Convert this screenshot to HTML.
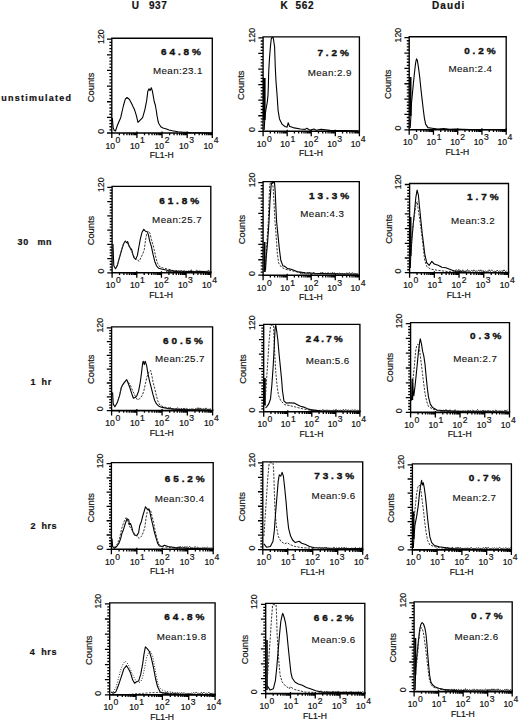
<!DOCTYPE html><html><head><meta charset="utf-8"><style>html,body{margin:0;padding:0;background:#fff;}svg{display:block}text{font-family:"Liberation Sans", sans-serif;fill:#111;stroke:#111;stroke-width:0.2px}</style></head><body>
<svg width="520" height="722" viewBox="0 0 520 722">
<rect width="520" height="722" fill="#fff"/>
<text x="131.8" y="8.6" font-size="10" font-weight="bold" letter-spacing="0.6">U</text>
<text x="148.9" y="8.6" font-size="10" font-weight="bold" letter-spacing="0.6">937</text>
<text x="280.6" y="8.6" font-size="10" font-weight="bold" letter-spacing="0.6">K</text>
<text x="295.6" y="8.6" font-size="10" font-weight="bold" letter-spacing="0.6">562</text>
<text x="432" y="8.6" font-size="10" font-weight="bold" letter-spacing="1.1">Daudi</text>
<text x="1.3" y="100.8" font-size="9" font-weight="bold" letter-spacing="1.25">unstimulated</text>
<text x="17.6" y="244.6" font-size="9" font-weight="bold" letter-spacing="0.6">30</text>
<text x="37.5" y="244.6" font-size="9" font-weight="bold" letter-spacing="0.5">mn</text>
<text x="30.6" y="384.6" font-size="9" font-weight="bold" letter-spacing="0.5">1</text>
<text x="41.6" y="384.6" font-size="9" font-weight="bold" letter-spacing="0.6">hr</text>
<text x="30.4" y="529.3" font-size="9" font-weight="bold" letter-spacing="0.5">2</text>
<text x="41.4" y="529.3" font-size="9" font-weight="bold" letter-spacing="0.6">hrs</text>
<text x="29.8" y="654.5" font-size="9" font-weight="bold" letter-spacing="0.5">4</text>
<text x="41.2" y="654.5" font-size="9" font-weight="bold" letter-spacing="0.6">hrs</text>
<path d="M107 133H111.8M109.4 129.87H111.8M109.4 126.75H111.8M109.4 123.62H111.8M109.4 120.49H111.8M107 117.37H111.8M109.4 114.24H111.8M109.4 111.11H111.8M109.4 107.99H111.8M109.4 104.86H111.8M107 101.73H111.8M109.4 98.61H111.8M109.4 95.48H111.8M109.4 92.35H111.8M109.4 89.23H111.8M107 86.1H111.8M109.4 82.97H111.8M109.4 79.85H111.8M109.4 76.72H111.8M109.4 73.59H111.8M107 70.47H111.8M109.4 67.34H111.8M109.4 64.21H111.8M109.4 61.09H111.8M109.4 57.96H111.8M107 54.83H111.8M109.4 51.71H111.8M109.4 48.58H111.8M109.4 45.45H111.8M109.4 42.33H111.8M107 39.2H111.8M111.8 133V138M119.36 133V135.2M123.79 133V135.2M126.93 133V135.2M129.36 133V135.2M131.35 133V135.2M133.03 133V135.2M134.49 133V135.2M135.78 133V135.2M136.93 131.5V138M144.49 133V135.2M148.91 133V135.2M152.05 133V135.2M154.49 133V135.2M156.48 133V135.2M158.16 133V135.2M159.62 133V135.2M160.9 133V135.2M162.05 131.5V138M169.61 133V135.2M174.04 133V135.2M177.18 133V135.2M179.61 133V135.2M181.6 133V135.2M183.28 133V135.2M184.74 133V135.2M186.03 133V135.2M187.18 131.5V138M194.74 133V135.2M199.16 133V135.2M202.3 133V135.2M204.74 133V135.2M206.73 133V135.2M208.41 133V135.2M209.87 133V135.2M211.15 133V135.2M212.3 131.5V138" stroke="#000" stroke-width="1.3" fill="none"/>
<path d="M112.4 118 L112.8 124 L113.2 128 L114.3 130.5 L115.5 131 L117.2 125.8 L118.8 122 L120.7 117.7 L122.2 111 L123.6 105 L125.3 99.2 L127 97.5 L129.3 99.2 L130.5 101.5 L131.7 103.8 L133.2 107 L134.5 109.6 L136.3 115.4 L138 122.3 L139.7 120.6 L142.6 117.7 L144.9 109.6 L146.7 100.4 L147.8 91.2 L149 88.8 L150.1 90.6 L151.3 87.7 L152.4 91.2 L154.2 101.5 L155.3 105 L156.2 110 L157 115.4 L158 121 L158.8 123.5 L160.8 126.7 L163 128 L166.5 129 L169 130 L172.3 130.8 L178 131.7 L183.8 132.2 L190 132.6 L200 132.8 L211 133" stroke="#000" stroke-width="1.1" fill="none" stroke-linejoin="round"/>
<path d="M111.8 133V38.2H212.3V133" stroke="#000" stroke-width="1.35" fill="none"/>
<path d="M111.2 133H212.9" stroke="#000" stroke-width="1.6" fill="none"/>
<text transform="translate(103.5 36.6) rotate(-90)" text-anchor="middle" font-size="8.8">120</text>
<text transform="translate(103.5 131.3) rotate(-90)" text-anchor="middle" font-size="8.8">0</text>
<text transform="translate(93.7 87.4) rotate(-90)" text-anchor="middle" font-size="9.3">Counts</text>
<text x="105.5" y="148.5" font-size="8.6">10</text>
<text x="115.6" y="143.3" font-size="8.6">0</text>
<text x="130.03" y="148.5" font-size="8.6">10</text>
<text x="140.12" y="143.3" font-size="8.6">1</text>
<text x="154.55" y="148.5" font-size="8.6">10</text>
<text x="164.65" y="143.3" font-size="8.6">2</text>
<text x="179.07" y="148.5" font-size="8.6">10</text>
<text x="189.17" y="143.3" font-size="8.6">3</text>
<text x="203.6" y="148.5" font-size="8.6">10</text>
<text x="213.7" y="143.3" font-size="8.6">4</text>
<text x="161.75" y="157.9" text-anchor="middle" font-size="8.6">FL1-H</text>
<text transform="translate(161.02 55.26) scale(1 0.99)" font-size="10" font-weight="bold" style="stroke-width:0.4px" letter-spacing="2.9">64.8%</text>
<text transform="translate(152.9 73.8) scale(1 1.0)" font-size="9.8" style="stroke-width:0.12px" letter-spacing="0.4">Mean:23.1</text>
<path d="M258.3 131.3H263.1M260.7 128.19H263.1M260.7 125.07H263.1M260.7 121.96H263.1M260.7 118.85H263.1M258.3 115.73H263.1M260.7 112.62H263.1M260.7 109.51H263.1M260.7 106.39H263.1M260.7 103.28H263.1M258.3 100.17H263.1M260.7 97.05H263.1M260.7 93.94H263.1M260.7 90.83H263.1M260.7 87.71H263.1M258.3 84.6H263.1M260.7 81.49H263.1M260.7 78.37H263.1M260.7 75.26H263.1M260.7 72.15H263.1M258.3 69.03H263.1M260.7 65.92H263.1M260.7 62.81H263.1M260.7 59.69H263.1M260.7 56.58H263.1M258.3 53.47H263.1M260.7 50.35H263.1M260.7 47.24H263.1M260.7 44.13H263.1M260.7 41.01H263.1M258.3 37.9H263.1M263.1 131.3V136.3M270.35 131.3V133.5M274.59 131.3V133.5M277.59 131.3V133.5M279.93 131.3V133.5M281.83 131.3V133.5M283.45 131.3V133.5M284.84 131.3V133.5M286.07 131.3V133.5M287.18 129.8V136.3M294.42 131.3V133.5M298.66 131.3V133.5M301.67 131.3V133.5M304 131.3V133.5M305.91 131.3V133.5M307.52 131.3V133.5M308.92 131.3V133.5M310.15 131.3V133.5M311.25 129.8V136.3M318.5 131.3V133.5M322.74 131.3V133.5M325.74 131.3V133.5M328.08 131.3V133.5M329.98 131.3V133.5M331.6 131.3V133.5M332.99 131.3V133.5M334.22 131.3V133.5M335.32 129.8V136.3M342.57 131.3V133.5M346.81 131.3V133.5M349.82 131.3V133.5M352.15 131.3V133.5M354.06 131.3V133.5M355.67 131.3V133.5M357.07 131.3V133.5M358.3 131.3V133.5M359.4 129.8V136.3" stroke="#000" stroke-width="1.3" fill="none"/>
<path d="M264.3 78 L264.3 120" stroke="#000" stroke-width="2.6" fill="none" stroke-linejoin="round"/>
<path d="M264.2 130 L264.6 122 L265.3 114 L266.2 108 L267.3 102 L268 95 L268.4 85 L268.7 72 L269.5 58 L270.4 46.9 L271.2 39.2 L271.8 37.6 L273.2 37.6 L273.6 40 L274.6 46.9 L275.3 67.6 L276 81.5 L277.1 95.3 L278.1 110.6 L279.5 118.9 L282.2 124.4 L285 126.5 L287.1 127.2 L288.2 122.7 L289.5 126.3 L294.2 127.9 L300.5 129 L305.2 129.4 L306.8 128.3 L310 130.2 L313.9 129 L316.3 130.2 L321 129.4 L330 130.4 L358 130.8" stroke="#000" stroke-width="1.1" fill="none" stroke-linejoin="round"/>
<path d="M263.1 131.3V36.9H359.4V131.3" stroke="#000" stroke-width="1.35" fill="none"/>
<path d="M262.5 131.3H360" stroke="#000" stroke-width="1.6" fill="none"/>
<text transform="translate(254.8 35.3) rotate(-90)" text-anchor="middle" font-size="8.8">120</text>
<text transform="translate(254.8 129.6) rotate(-90)" text-anchor="middle" font-size="8.8">0</text>
<text transform="translate(244.3 85.2) rotate(-90)" text-anchor="middle" font-size="9.3">Counts</text>
<text x="256.8" y="146.8" font-size="8.6">10</text>
<text x="266.9" y="141.6" font-size="8.6">0</text>
<text x="280.27" y="146.8" font-size="8.6">10</text>
<text x="290.38" y="141.6" font-size="8.6">1</text>
<text x="303.75" y="146.8" font-size="8.6">10</text>
<text x="313.85" y="141.6" font-size="8.6">2</text>
<text x="327.22" y="146.8" font-size="8.6">10</text>
<text x="337.32" y="141.6" font-size="8.6">3</text>
<text x="350.7" y="146.8" font-size="8.6">10</text>
<text x="360.8" y="141.6" font-size="8.6">4</text>
<text x="310.95" y="156.2" text-anchor="middle" font-size="8.6">FL1-H</text>
<text transform="translate(317.38 55.98) scale(1 0.99)" font-size="10" font-weight="bold" style="stroke-width:0.4px" letter-spacing="2.9">7.2%</text>
<text transform="translate(307.7 76.24) scale(1 1.0)" font-size="9.8" style="stroke-width:0.12px" letter-spacing="0.4">Mean:2.9</text>
<path d="M404.4 129.8H409.2M406.8 126.73H409.2M406.8 123.66H409.2M406.8 120.59H409.2M406.8 117.52H409.2M404.4 114.45H409.2M406.8 111.38H409.2M406.8 108.31H409.2M406.8 105.24H409.2M406.8 102.17H409.2M404.4 99.1H409.2M406.8 96.03H409.2M406.8 92.96H409.2M406.8 89.89H409.2M406.8 86.82H409.2M404.4 83.75H409.2M406.8 80.68H409.2M406.8 77.61H409.2M406.8 74.54H409.2M406.8 71.47H409.2M404.4 68.4H409.2M406.8 65.33H409.2M406.8 62.26H409.2M406.8 59.19H409.2M406.8 56.12H409.2M404.4 53.05H409.2M406.8 49.98H409.2M406.8 46.91H409.2M406.8 43.84H409.2M406.8 40.77H409.2M404.4 37.7H409.2M409.2 129.8V134.8M416.5 129.8V132M420.77 129.8V132M423.8 129.8V132M426.15 129.8V132M428.07 129.8V132M429.69 129.8V132M431.1 129.8V132M432.34 129.8V132M433.45 128.3V134.8M440.75 129.8V132M445.02 129.8V132M448.05 129.8V132M450.4 129.8V132M452.32 129.8V132M453.94 129.8V132M455.35 129.8V132M456.59 129.8V132M457.7 128.3V134.8M465 129.8V132M469.27 129.8V132M472.3 129.8V132M474.65 129.8V132M476.57 129.8V132M478.19 129.8V132M479.6 129.8V132M480.84 129.8V132M481.95 128.3V134.8M489.25 129.8V132M493.52 129.8V132M496.55 129.8V132M498.9 129.8V132M500.82 129.8V132M502.44 129.8V132M503.85 129.8V132M505.09 129.8V132M506.2 128.3V134.8" stroke="#000" stroke-width="1.3" fill="none"/>
<path d="M410.5 77 L410.5 116" stroke="#000" stroke-width="2.0" fill="none" stroke-linejoin="round"/>
<path d="M410.2 128 L410.9 115.9 L411.5 103 L412.3 94.7 L413.2 85.3 L414.4 73.5 L415.6 63 L416.5 58.8 L417.4 60.6 L418.5 67.6 L419.7 77 L420.9 88.8 L422.1 99.4 L423.2 108.8 L424.4 118.2 L425.6 124.1 L427.9 127.6 L432.1 128.2 L437.9 129.1 L443.8 128.6 L449.7 129.4 L455 129.1 L470 129.6 L505 129.8" stroke="#000" stroke-width="1.1" fill="none" stroke-linejoin="round"/>
<path d="M409.2 129.8V36.7H506.2V129.8" stroke="#000" stroke-width="1.35" fill="none"/>
<path d="M408.6 129.8H506.8" stroke="#000" stroke-width="1.6" fill="none"/>
<text transform="translate(400.9 35.1) rotate(-90)" text-anchor="middle" font-size="8.8">120</text>
<text transform="translate(400.9 128.1) rotate(-90)" text-anchor="middle" font-size="8.8">0</text>
<text transform="translate(391.1 84.2) rotate(-90)" text-anchor="middle" font-size="9.3">Counts</text>
<text x="402.9" y="145.3" font-size="8.6">10</text>
<text x="413" y="140.1" font-size="8.6">0</text>
<text x="426.55" y="145.3" font-size="8.6">10</text>
<text x="436.65" y="140.1" font-size="8.6">1</text>
<text x="450.2" y="145.3" font-size="8.6">10</text>
<text x="460.3" y="140.1" font-size="8.6">2</text>
<text x="473.85" y="145.3" font-size="8.6">10</text>
<text x="483.95" y="140.1" font-size="8.6">3</text>
<text x="497.5" y="145.3" font-size="8.6">10</text>
<text x="507.6" y="140.1" font-size="8.6">4</text>
<text x="457.4" y="154.7" text-anchor="middle" font-size="8.6">FL1-H</text>
<text transform="translate(464.16 54.06) scale(1 0.99)" font-size="10" font-weight="bold" style="stroke-width:0.4px" letter-spacing="2.9">0.2%</text>
<text transform="translate(448.38 72.44) scale(1 1.0)" font-size="9.8" style="stroke-width:0.12px" letter-spacing="0.4">Mean:2.4</text>
<path d="M107.3 272.8H112.1M109.7 269.95H112.1M109.7 267.1H112.1M109.7 264.25H112.1M109.7 261.4H112.1M107.3 258.55H112.1M109.7 255.7H112.1M109.7 252.85H112.1M109.7 250H112.1M109.7 247.15H112.1M107.3 244.3H112.1M109.7 241.45H112.1M109.7 238.6H112.1M109.7 235.75H112.1M109.7 232.9H112.1M107.3 230.05H112.1M109.7 227.2H112.1M109.7 224.35H112.1M109.7 221.5H112.1M109.7 218.65H112.1M107.3 215.8H112.1M109.7 212.95H112.1M109.7 210.1H112.1M109.7 207.25H112.1M109.7 204.4H112.1M107.3 201.55H112.1M109.7 198.7H112.1M109.7 195.85H112.1M109.7 193H112.1M109.7 190.15H112.1M107.3 187.3H112.1M112.1 272.8V277.8M119.53 272.8V275M123.87 272.8V275M126.96 272.8V275M129.35 272.8V275M131.3 272.8V275M132.95 272.8V275M134.38 272.8V275M135.65 272.8V275M136.78 271.3V277.8M144.2 272.8V275M148.55 272.8V275M151.63 272.8V275M154.02 272.8V275M155.98 272.8V275M157.63 272.8V275M159.06 272.8V275M160.32 272.8V275M161.45 271.3V277.8M168.88 272.8V275M173.22 272.8V275M176.31 272.8V275M178.7 272.8V275M180.65 272.8V275M182.3 272.8V275M183.73 272.8V275M185 272.8V275M186.12 271.3V277.8M193.55 272.8V275M197.9 272.8V275M200.98 272.8V275M203.37 272.8V275M205.33 272.8V275M206.98 272.8V275M208.41 272.8V275M209.67 272.8V275M210.8 271.3V277.8" stroke="#000" stroke-width="1.3" fill="none"/>
<path d="M113 244 L113.4 256 L113.8 265.8 L115.5 268.7 L117.2 265.8 L119.5 257.7 L121.8 249.6 L123.6 243.8 L125.3 241 L126.5 242.7 L127.6 241.5 L128.8 245 L129.9 247.3 L131.7 249.6 L132.8 254.2 L134 257.7 L135.7 259.4 L137.4 255.4 L138.6 248.5 L140.3 239.2 L142 232.3 L143.8 229.4 L145.5 231.2 L147.2 231.7 L148.4 234.6 L149.5 240.4 L151.3 246.2 L153 254.2 L154.7 261.2 L156.5 265.8 L158.8 268.3 L162.2 269.2 L166.3 270 L170 271.3 L172.5 270.6 L176 271.6 L180 271 L185 271.8 L190 271.2 L195 271.9 L200 271.3 L210 272" stroke="#000" stroke-width="1.1" fill="none" stroke-linejoin="round"/>
<path d="M115.5 268.7 L117.2 265.8 L119.5 257.2 L121.8 249 L123.6 243.5 L125.3 241.3 L127 242 L128.8 246 L130.5 249.5 L132.8 254 L135.1 258.5 L137.4 260 L139.2 261.2 L140.9 257.7 L142.6 254.2 L144.3 249.6 L145.5 240.4 L146.7 233.5 L148.4 231.2 L150.1 233.5 L151.3 239.2 L153 245 L154.2 249.6 L155.9 257.7 L157.6 263.5 L159.9 266.9 L163.4 268.1 L168 269.2 L172 270.3 L178 271" stroke="#2a2a2a" stroke-width="0.95" fill="none" stroke-linejoin="round" stroke-dasharray="2.2 1.3"/>
<path d="M166 271.79 L167.57 271.2 L168.9 271.86 L169.82 269.16 L170.71 271.58 L171.82 270.45 L172.97 271.8 L174.42 271.3 L175.33 271.89 L176.27 270.59 L177.78 271.71 L178.58 270.93 L180.18 271.87 L181.43 270.69 L182.73 271.73 L184.05 270.45 L185.34 271.45 L186.56 271.21 L187.32 271.43 L188.46 271.1 L190.01 271.61 L191.36 269.74 L192.32 271.72 L193.81 271.24 L195.2 271.85 L196.52 270.16 L198.08 271.48 L199.23 271.13 L200.06 271.64 L201.22 271.37 L202.74 271.65 L204.07 271.11 L204.99 271.89 L205.99 271.03 L207.08 271.71 L208.53 269.97 L209.38 271.7" stroke="#111" stroke-width="0.8075" fill="none" stroke-linejoin="round"/>
<path d="M112.1 272.8V186.3H210.8V272.8" stroke="#000" stroke-width="1.35" fill="none"/>
<path d="M111.5 272.8H211.4" stroke="#000" stroke-width="1.6" fill="none"/>
<text transform="translate(103.8 184.7) rotate(-90)" text-anchor="middle" font-size="8.8">120</text>
<text transform="translate(103.8 271.1) rotate(-90)" text-anchor="middle" font-size="8.8">0</text>
<text transform="translate(94.4 230.55) rotate(-90)" text-anchor="middle" font-size="9.3">Counts</text>
<text x="105.8" y="288.3" font-size="8.6">10</text>
<text x="115.9" y="283.1" font-size="8.6">0</text>
<text x="129.88" y="288.3" font-size="8.6">10</text>
<text x="139.97" y="283.1" font-size="8.6">1</text>
<text x="153.95" y="288.3" font-size="8.6">10</text>
<text x="164.05" y="283.1" font-size="8.6">2</text>
<text x="178.03" y="288.3" font-size="8.6">10</text>
<text x="188.12" y="283.1" font-size="8.6">3</text>
<text x="202.1" y="288.3" font-size="8.6">10</text>
<text x="212.2" y="283.1" font-size="8.6">4</text>
<text x="161.15" y="297.7" text-anchor="middle" font-size="8.6">FL1-H</text>
<text transform="translate(159.2 204.07) scale(1 0.99)" font-size="10" font-weight="bold" style="stroke-width:0.4px" letter-spacing="2.9">61.8%</text>
<text transform="translate(152.12 222.8) scale(1 1.0)" font-size="9.8" style="stroke-width:0.12px" letter-spacing="0.4">Mean:25.7</text>
<path d="M258.3 275.2H263.1M260.7 272.11H263.1M260.7 269.03H263.1M260.7 265.94H263.1M260.7 262.85H263.1M258.3 259.77H263.1M260.7 256.68H263.1M260.7 253.59H263.1M260.7 250.51H263.1M260.7 247.42H263.1M258.3 244.33H263.1M260.7 241.25H263.1M260.7 238.16H263.1M260.7 235.07H263.1M260.7 231.99H263.1M258.3 228.9H263.1M260.7 225.81H263.1M260.7 222.73H263.1M260.7 219.64H263.1M260.7 216.55H263.1M258.3 213.47H263.1M260.7 210.38H263.1M260.7 207.29H263.1M260.7 204.21H263.1M260.7 201.12H263.1M258.3 198.03H263.1M260.7 194.95H263.1M260.7 191.86H263.1M260.7 188.77H263.1M260.7 185.69H263.1M258.3 182.6H263.1M263.1 275.2V280.2M270.34 275.2V277.4M274.57 275.2V277.4M277.58 275.2V277.4M279.91 275.2V277.4M281.81 275.2V277.4M283.42 275.2V277.4M284.82 275.2V277.4M286.05 275.2V277.4M287.15 273.7V280.2M294.39 275.2V277.4M298.62 275.2V277.4M301.63 275.2V277.4M303.96 275.2V277.4M305.86 275.2V277.4M307.47 275.2V277.4M308.87 275.2V277.4M310.1 275.2V277.4M311.2 273.7V280.2M318.44 275.2V277.4M322.67 275.2V277.4M325.68 275.2V277.4M328.01 275.2V277.4M329.91 275.2V277.4M331.52 275.2V277.4M332.92 275.2V277.4M334.15 275.2V277.4M335.25 273.7V280.2M342.49 275.2V277.4M346.72 275.2V277.4M349.73 275.2V277.4M352.06 275.2V277.4M353.96 275.2V277.4M355.57 275.2V277.4M356.97 275.2V277.4M358.2 275.2V277.4M359.3 273.7V280.2" stroke="#000" stroke-width="1.3" fill="none"/>
<path d="M264.6 242 L264.6 272" stroke="#000" stroke-width="1.8" fill="none" stroke-linejoin="round"/>
<path d="M265.2 272 L265.5 265.9 L266.9 242.3 L268.3 221.5 L269 200.8 L269.7 185.5 L270.4 182.6 L272.5 182.6 L273.2 188.3 L273.9 200.8 L275 221.5 L275.9 232.6 L276.6 242.3 L277.3 253.4 L278.7 263.1 L281.5 267.3 L285.6 269.3 L291 270.5 L298 272.2 L306 273" stroke="#2a2a2a" stroke-width="0.95" fill="none" stroke-linejoin="round" stroke-dasharray="2.2 1.3"/>
<path d="M265.5 270 L266.2 257.6 L267.6 242.3 L269 221.5 L270 200.8 L271.1 185.5 L271.8 182.6 L274.5 182.6 L275.2 191.1 L275.9 207.7 L276.6 221.5 L278 235.4 L279.4 249.3 L280.8 260.3 L282.9 265.9 L284.2 266 L287.7 268.6 L291.2 269.2 L298.3 271.9 L305.4 272.7 L314.2 273.3 L323.1 273.6 L358 274.3" stroke="#000" stroke-width="1.1" fill="none" stroke-linejoin="round"/>
<path d="M300 274.22 L301.32 272.64 L302.45 274.19 L303.87 272.32 L305.03 274.05 L305.94 273.89 L306.97 274.01 L307.74 272.37 L308.64 274.18 L309.38 272 L310.75 273.86 L312 273.84 L313 274.05 L313.8 272.13 L314.83 274.22 L316.27 273.67 L317.8 274.07 L319 273.28 L320.14 274.21 L320.87 272.35 L321.78 273.91 L322.67 272.18 L324.17 273.92 L325.56 272.89 L326.92 274.24 L328.05 272.48 L328.93 273.84 L330.43 273.21 L331.45 274.07 L332.5 272.24 L333.55 274.29 L334.33 272.71 L335.93 274.05 L337.07 273.01 L338.44 274.19 L339.69 273.01 L340.95 274.21 L341.8 273.35 L343.34 274.13 L344.58 273.43 L345.37 274.27 L346.8 272.71 L347.84 273.96 L349.15 272.55 L350.71 274.1 L352.3 272.49 L353.53 273.86 L354.67 273.36 L355.6 273.86 L356.44 273.8 L357.87 273.91" stroke="#111" stroke-width="0.765" fill="none" stroke-linejoin="round"/>
<path d="M263.1 275.2V181.6H359.3V275.2" stroke="#000" stroke-width="1.35" fill="none"/>
<path d="M262.5 275.2H359.9" stroke="#000" stroke-width="1.6" fill="none"/>
<text transform="translate(254.8 180) rotate(-90)" text-anchor="middle" font-size="8.8">120</text>
<text transform="translate(254.8 273.5) rotate(-90)" text-anchor="middle" font-size="8.8">0</text>
<text transform="translate(244.5 229.5) rotate(-90)" text-anchor="middle" font-size="9.3">Counts</text>
<text x="256.8" y="290.7" font-size="8.6">10</text>
<text x="266.9" y="285.5" font-size="8.6">0</text>
<text x="280.25" y="290.7" font-size="8.6">10</text>
<text x="290.35" y="285.5" font-size="8.6">1</text>
<text x="303.7" y="290.7" font-size="8.6">10</text>
<text x="313.8" y="285.5" font-size="8.6">2</text>
<text x="327.15" y="290.7" font-size="8.6">10</text>
<text x="337.25" y="285.5" font-size="8.6">3</text>
<text x="350.6" y="290.7" font-size="8.6">10</text>
<text x="360.7" y="285.5" font-size="8.6">4</text>
<text x="310.9" y="300.1" text-anchor="middle" font-size="8.6">FL1-H</text>
<text transform="translate(309.12 199.46) scale(1 0.99)" font-size="10" font-weight="bold" style="stroke-width:0.4px" letter-spacing="2.9">13.3%</text>
<text transform="translate(300.26 217.28) scale(1 1.0)" font-size="9.8" style="stroke-width:0.12px" letter-spacing="0.4">Mean:4.3</text>
<path d="M404.8 272.7H409.6M407.2 269.76H409.6M407.2 266.82H409.6M407.2 263.88H409.6M407.2 260.94H409.6M404.8 258H409.6M407.2 255.06H409.6M407.2 252.12H409.6M407.2 249.18H409.6M407.2 246.24H409.6M404.8 243.3H409.6M407.2 240.36H409.6M407.2 237.42H409.6M407.2 234.48H409.6M407.2 231.54H409.6M404.8 228.6H409.6M407.2 225.66H409.6M407.2 222.72H409.6M407.2 219.78H409.6M407.2 216.84H409.6M404.8 213.9H409.6M407.2 210.96H409.6M407.2 208.02H409.6M407.2 205.08H409.6M407.2 202.14H409.6M404.8 199.2H409.6M407.2 196.26H409.6M407.2 193.32H409.6M407.2 190.38H409.6M407.2 187.44H409.6M404.8 184.5H409.6M409.6 272.7V277.7M417.04 272.7V274.9M421.4 272.7V274.9M424.49 272.7V274.9M426.88 272.7V274.9M428.84 272.7V274.9M430.5 272.7V274.9M431.93 272.7V274.9M433.19 272.7V274.9M434.33 271.2V277.7M441.77 272.7V274.9M446.12 272.7V274.9M449.21 272.7V274.9M451.61 272.7V274.9M453.56 272.7V274.9M455.22 272.7V274.9M456.65 272.7V274.9M457.92 272.7V274.9M459.05 271.2V277.7M466.49 272.7V274.9M470.85 272.7V274.9M473.94 272.7V274.9M476.33 272.7V274.9M478.29 272.7V274.9M479.95 272.7V274.9M481.38 272.7V274.9M482.64 272.7V274.9M483.77 271.2V277.7M491.22 272.7V274.9M495.57 272.7V274.9M498.66 272.7V274.9M501.06 272.7V274.9M503.01 272.7V274.9M504.67 272.7V274.9M506.1 272.7V274.9M507.37 272.7V274.9M508.5 271.2V277.7" stroke="#000" stroke-width="1.3" fill="none"/>
<path d="M410.6 217 L410.6 256" stroke="#000" stroke-width="1.8" fill="none" stroke-linejoin="round"/>
<path d="M410.3 268 L410.7 256.3 L412 238.5 L413.3 223.2 L414.6 210.5 L415.8 197.7 L417.1 190.1 L418.4 195.2 L419.6 207.9 L420.9 220.7 L422.2 233.4 L423.5 243.6 L424.7 253.8 L426.7 262.7 L429.2 265.3 L431.8 261.4 L434.3 264 L438.1 265.3 L441.9 267.2 L445.8 267.8 L450.9 269.7 L456 271.6 L470 272.3 L507 272.6" stroke="#000" stroke-width="1.1" fill="none" stroke-linejoin="round"/>
<path d="M410.7 248.7 L412.6 229.6 L414.6 214.3 L415.8 205.4 L417.1 201.6 L418.4 210.5 L419.6 218.1 L420.9 228.3 L422.2 238.5 L423.5 250 L424.7 260.2 L426.7 266.5 L430.5 269.1 L438.1 270.4 L448.3 271.6 L460 272.2" stroke="#2a2a2a" stroke-width="0.95" fill="none" stroke-linejoin="round" stroke-dasharray="2.2 1.3"/>
<path d="M455 271.54 L456.23 269.56 L457.74 271.36 L458.76 269.36 L459.85 271.65 L460.63 270.31 L461.47 271.66 L462.72 269.77 L464.1 271.76 L464.85 270.87 L466.05 271.38 L467.47 269.49 L468.7 271.48 L469.66 270.77 L470.55 271.53 L471.79 270.26 L472.85 271.59 L473.77 269.8 L474.99 271.43 L476.42 270.86 L477.23 271.66 L478.75 269.89 L479.81 271.41 L480.82 269.77 L481.6 271.43 L483.18 270.62 L484.3 271.73 L485.25 270.97 L486.21 271.77 L487.18 271.21 L488.35 271.6 L489.26 269.72 L490.24 271.53 L491.74 270.08 L493.31 271.5 L494.79 271.29 L496.16 271.63 L497.14 270.11 L498.51 271.63 L499.54 270.94 L501.08 271.49 L502.01 270.54 L502.77 271.67 L503.92 269.85 L505.39 271.53 L506.78 271.01" stroke="#111" stroke-width="0.8075" fill="none" stroke-linejoin="round"/>
<path d="M409.6 272.7V183.5H508.5V272.7" stroke="#000" stroke-width="1.35" fill="none"/>
<path d="M409 272.7H509.1" stroke="#000" stroke-width="1.6" fill="none"/>
<text transform="translate(401.3 181.9) rotate(-90)" text-anchor="middle" font-size="8.8">120</text>
<text transform="translate(401.3 271) rotate(-90)" text-anchor="middle" font-size="8.8">0</text>
<text transform="translate(391.9 229) rotate(-90)" text-anchor="middle" font-size="9.3">Counts</text>
<text x="403.3" y="288.2" font-size="8.6">10</text>
<text x="413.4" y="283" font-size="8.6">0</text>
<text x="427.43" y="288.2" font-size="8.6">10</text>
<text x="437.53" y="283" font-size="8.6">1</text>
<text x="451.55" y="288.2" font-size="8.6">10</text>
<text x="461.65" y="283" font-size="8.6">2</text>
<text x="475.67" y="288.2" font-size="8.6">10</text>
<text x="485.77" y="283" font-size="8.6">3</text>
<text x="499.8" y="288.2" font-size="8.6">10</text>
<text x="509.9" y="283" font-size="8.6">4</text>
<text x="458.75" y="297.6" text-anchor="middle" font-size="8.6">FL1-H</text>
<text transform="translate(467.06 200.44) scale(1 0.99)" font-size="10" font-weight="bold" style="stroke-width:0.4px" letter-spacing="2.9">1.7%</text>
<text transform="translate(450.98 223.7) scale(1 1.0)" font-size="9.8" style="stroke-width:0.12px" letter-spacing="0.4">Mean:3.2</text>
<path d="M106.8 410.6H111.6M109.2 407.84H111.6M109.2 405.08H111.6M109.2 402.32H111.6M109.2 399.56H111.6M106.8 396.8H111.6M109.2 394.04H111.6M109.2 391.28H111.6M109.2 388.52H111.6M109.2 385.76H111.6M106.8 383H111.6M109.2 380.24H111.6M109.2 377.48H111.6M109.2 374.72H111.6M109.2 371.96H111.6M106.8 369.2H111.6M109.2 366.44H111.6M109.2 363.68H111.6M109.2 360.92H111.6M109.2 358.16H111.6M106.8 355.4H111.6M109.2 352.64H111.6M109.2 349.88H111.6M109.2 347.12H111.6M109.2 344.36H111.6M106.8 341.6H111.6M109.2 338.84H111.6M109.2 336.08H111.6M109.2 333.32H111.6M109.2 330.56H111.6M106.8 327.8H111.6M111.6 410.6V415.6M119.2 410.6V412.8M123.65 410.6V412.8M126.8 410.6V412.8M129.25 410.6V412.8M131.25 410.6V412.8M132.94 410.6V412.8M134.4 410.6V412.8M135.69 410.6V412.8M136.85 409.1V415.6M144.45 410.6V412.8M148.9 410.6V412.8M152.05 410.6V412.8M154.5 410.6V412.8M156.5 410.6V412.8M158.19 410.6V412.8M159.65 410.6V412.8M160.94 410.6V412.8M162.1 409.1V415.6M169.7 410.6V412.8M174.15 410.6V412.8M177.3 410.6V412.8M179.75 410.6V412.8M181.75 410.6V412.8M183.44 410.6V412.8M184.9 410.6V412.8M186.19 410.6V412.8M187.35 409.1V415.6M194.95 410.6V412.8M199.4 410.6V412.8M202.55 410.6V412.8M205 410.6V412.8M207 410.6V412.8M208.69 410.6V412.8M210.15 410.6V412.8M211.44 410.6V412.8M212.6 409.1V415.6" stroke="#000" stroke-width="1.3" fill="none"/>
<path d="M112.6 392.4 L113.2 403.9 L114.9 406.8 L117.2 402.8 L119.5 395.8 L121.3 387.8 L123 384.3 L125.3 381.4 L126.7 379.7 L128.2 383.2 L129.9 387.8 L131.7 393.5 L133.4 398.2 L135.1 397.6 L136.8 395.8 L138.6 391.2 L140.3 382 L141.5 372.8 L142.6 363.5 L143.2 361.2 L144.3 364.7 L145.2 361.2 L146.7 365.8 L147.8 372.8 L149.5 380.8 L151.3 387.8 L153 394.7 L154.7 400.5 L156.5 403.9 L158.8 406.2 L162.2 407.4 L168 408.5 L175 409.2 L185 409.6 L211 410" stroke="#000" stroke-width="1.1" fill="none" stroke-linejoin="round"/>
<path d="M117.2 402.8 L119.5 395.5 L121.3 387.5 L123 384 L125.3 381 L126.7 380 L128.2 382 L130.5 385.5 L132.8 391.2 L135.1 395.8 L137.4 399.9 L139.7 398.7 L142 395.8 L143.8 391.2 L145.5 383.2 L147.2 376.2 L149 371.6 L150.7 370.5 L151.8 375.1 L153 382 L154.2 386.6 L155.9 393.5 L157.6 400.5 L159.9 405.1 L163.4 406.8 L168 408 L175 409 L185 409.5" stroke="#2a2a2a" stroke-width="0.95" fill="none" stroke-linejoin="round" stroke-dasharray="2.2 1.3"/>
<path d="M168 409.22 L168.71 407.69 L169.55 409.21 L170.27 407.39 L171.58 409.27 L173.18 408.79 L174.19 409.35 L175.14 408.75 L176.04 409.27 L177.53 407.66 L178.43 409.24 L179.59 408.83 L180.7 409.49 L181.47 408.17 L182.5 409.42 L184.03 408.03 L185.1 409.27 L186.69 408.36 L188.24 409.69 L189.07 408.97 L190.62 409.35 L191.96 408.77 L193.11 409.26 L193.9 409.09 L194.64 409.47 L196.1 408.31 L197.16 409.45 L198.02 407.64 L199.04 409.58 L200.02 407.88 L201 409.25 L202.01 408.55 L202.77 409.25 L204.19 408.51 L204.99 409.45 L206.03 407.92 L207.57 409.33 L208.53 409.23 L210.03 409.23 L210.87 408.52" stroke="#111" stroke-width="0.8075" fill="none" stroke-linejoin="round"/>
<path d="M111.6 410.6V326.8H212.6V410.6" stroke="#000" stroke-width="1.35" fill="none"/>
<path d="M111 410.6H213.2" stroke="#000" stroke-width="1.6" fill="none"/>
<text transform="translate(103.3 325.2) rotate(-90)" text-anchor="middle" font-size="8.8">120</text>
<text transform="translate(103.3 408.9) rotate(-90)" text-anchor="middle" font-size="8.8">0</text>
<text transform="translate(93.9 369.2) rotate(-90)" text-anchor="middle" font-size="9.3">Counts</text>
<text x="105.3" y="426.1" font-size="8.6">10</text>
<text x="115.4" y="420.9" font-size="8.6">0</text>
<text x="129.95" y="426.1" font-size="8.6">10</text>
<text x="140.05" y="420.9" font-size="8.6">1</text>
<text x="154.6" y="426.1" font-size="8.6">10</text>
<text x="164.7" y="420.9" font-size="8.6">2</text>
<text x="179.25" y="426.1" font-size="8.6">10</text>
<text x="189.35" y="420.9" font-size="8.6">3</text>
<text x="203.9" y="426.1" font-size="8.6">10</text>
<text x="214" y="420.9" font-size="8.6">4</text>
<text x="161.8" y="435.5" text-anchor="middle" font-size="8.6">FL1-H</text>
<text transform="translate(162.98 344.28) scale(1 0.99)" font-size="10" font-weight="bold" style="stroke-width:0.4px" letter-spacing="2.9">60.5%</text>
<text transform="translate(155 361.8) scale(1 1.0)" font-size="9.8" style="stroke-width:0.12px" letter-spacing="0.4">Mean:25.7</text>
<path d="M258.9 411.8H263.7M261.3 408.92H263.7M261.3 406.03H263.7M261.3 403.15H263.7M261.3 400.27H263.7M258.9 397.38H263.7M261.3 394.5H263.7M261.3 391.62H263.7M261.3 388.73H263.7M261.3 385.85H263.7M258.9 382.97H263.7M261.3 380.08H263.7M261.3 377.2H263.7M261.3 374.32H263.7M261.3 371.43H263.7M258.9 368.55H263.7M261.3 365.67H263.7M261.3 362.78H263.7M261.3 359.9H263.7M261.3 357.02H263.7M258.9 354.13H263.7M261.3 351.25H263.7M261.3 348.37H263.7M261.3 345.48H263.7M261.3 342.6H263.7M258.9 339.72H263.7M261.3 336.83H263.7M261.3 333.95H263.7M261.3 331.07H263.7M261.3 328.18H263.7M258.9 325.3H263.7M263.7 411.8V416.8M270.94 411.8V414M275.17 411.8V414M278.18 411.8V414M280.51 411.8V414M282.41 411.8V414M284.02 411.8V414M285.42 411.8V414M286.65 411.8V414M287.75 410.3V416.8M294.99 411.8V414M299.22 411.8V414M302.23 411.8V414M304.56 411.8V414M306.46 411.8V414M308.07 411.8V414M309.47 411.8V414M310.7 411.8V414M311.8 410.3V416.8M319.04 411.8V414M323.27 411.8V414M326.28 411.8V414M328.61 411.8V414M330.51 411.8V414M332.12 411.8V414M333.52 411.8V414M334.75 411.8V414M335.85 410.3V416.8M343.09 411.8V414M347.32 411.8V414M350.33 411.8V414M352.66 411.8V414M354.56 411.8V414M356.17 411.8V414M357.57 411.8V414M358.8 411.8V414M359.9 410.3V416.8" stroke="#000" stroke-width="1.3" fill="none"/>
<path d="M264.9 378 L264.9 405.5" stroke="#000" stroke-width="1.8" fill="none" stroke-linejoin="round"/>
<path d="M265.3 399 L266.6 379.2 L267.9 359.5 L269.2 339.7 L270.5 326.6 L271 325.2 L273.5 325.2 L273.8 333.2 L274.7 352.9 L275.8 372.6 L277.1 385.8 L278.4 395 L280.8 400.8 L284.7 404.7 L289.5 405.5 L295.8 407.1 L302.1 408.7 L308.4 409.9 L320 410.6" stroke="#2a2a2a" stroke-width="0.95" fill="none" stroke-linejoin="round" stroke-dasharray="2.2 1.3"/>
<path d="M265.5 408 L266.6 406.8 L268.6 404.2 L270.5 399 L271.8 385.8 L273.2 366 L274.2 346.3 L275.1 327.9 L275.8 325.2 L276.8 331.8 L277.8 339.7 L279.1 354.2 L280.4 367.4 L281.7 380.5 L282.4 390 L283.9 400.8 L286.3 403.1 L289.5 402.7 L294.2 403.1 L297.4 404.7 L300.5 406.3 L303.7 407.1 L307.6 408.7 L311.5 409.9 L320 410.8 L358 411.2" stroke="#000" stroke-width="1.1" fill="none" stroke-linejoin="round"/>
<path d="M310 410.84 L310.82 409.31 L311.68 410.83 L312.8 409.68 L313.69 410.7 L315.15 410.25 L316.01 410.89 L316.93 410.32 L318.52 410.74 L320.11 410.26 L321.62 410.65 L322.94 409.28 L323.89 410.78 L325.2 410.26 L325.91 410.51 L327.18 410.03 L328.35 410.45 L329.3 410.28 L330.37 410.82 L331.4 410.44 L332.79 410.5 L333.83 409.85 L334.76 410.42 L336.25 409.38 L337.11 410.81 L338.5 410.19 L339.82 410.69 L340.55 410.18 L342.07 410.74 L343.38 409.28 L344.43 410.65 L345.91 409.36 L347.08 410.63 L348.18 409.84 L349.48 410.78 L350.96 410.06 L351.87 410.42 L352.58 409.89 L353.78 410.68 L355.23 409.52 L356.38 410.9 L357.97 409.98 L358.99 410.79" stroke="#111" stroke-width="0.765" fill="none" stroke-linejoin="round"/>
<path d="M263.7 411.8V324.3H359.9V411.8" stroke="#000" stroke-width="1.35" fill="none"/>
<path d="M263.1 411.8H360.5" stroke="#000" stroke-width="1.6" fill="none"/>
<text transform="translate(255.4 322.7) rotate(-90)" text-anchor="middle" font-size="8.8">120</text>
<text transform="translate(255.4 410.1) rotate(-90)" text-anchor="middle" font-size="8.8">0</text>
<text transform="translate(245.6 369.05) rotate(-90)" text-anchor="middle" font-size="9.3">Counts</text>
<text x="257.4" y="427.3" font-size="8.6">10</text>
<text x="267.5" y="422.1" font-size="8.6">0</text>
<text x="280.85" y="427.3" font-size="8.6">10</text>
<text x="290.95" y="422.1" font-size="8.6">1</text>
<text x="304.3" y="427.3" font-size="8.6">10</text>
<text x="314.4" y="422.1" font-size="8.6">2</text>
<text x="327.75" y="427.3" font-size="8.6">10</text>
<text x="337.85" y="422.1" font-size="8.6">3</text>
<text x="351.2" y="427.3" font-size="8.6">10</text>
<text x="361.3" y="422.1" font-size="8.6">4</text>
<text x="311.5" y="436.7" text-anchor="middle" font-size="8.6">FL1-H</text>
<text transform="translate(305.86 342.44) scale(1 0.99)" font-size="9.8" font-weight="bold" style="stroke-width:0.4px" letter-spacing="2.25">24.7%</text>
<text transform="translate(305.64 363.9) scale(1 1.0)" font-size="9.8" style="stroke-width:0.12px" letter-spacing="0.4">Mean:5.6</text>
<path d="M405.8 412.4H410.6M408.2 409.44H410.6M408.2 406.48H410.6M408.2 403.52H410.6M408.2 400.56H410.6M405.8 397.6H410.6M408.2 394.64H410.6M408.2 391.68H410.6M408.2 388.72H410.6M408.2 385.76H410.6M405.8 382.8H410.6M408.2 379.84H410.6M408.2 376.88H410.6M408.2 373.92H410.6M408.2 370.96H410.6M405.8 368H410.6M408.2 365.04H410.6M408.2 362.08H410.6M408.2 359.12H410.6M408.2 356.16H410.6M405.8 353.2H410.6M408.2 350.24H410.6M408.2 347.28H410.6M408.2 344.32H410.6M408.2 341.36H410.6M405.8 338.4H410.6M408.2 335.44H410.6M408.2 332.48H410.6M408.2 329.52H410.6M408.2 326.56H410.6M405.8 323.6H410.6M410.6 412.4V417.4M418.04 412.4V414.6M422.4 412.4V414.6M425.49 412.4V414.6M427.88 412.4V414.6M429.84 412.4V414.6M431.5 412.4V414.6M432.93 412.4V414.6M434.19 412.4V414.6M435.33 410.9V417.4M442.77 412.4V414.6M447.12 412.4V414.6M450.21 412.4V414.6M452.61 412.4V414.6M454.56 412.4V414.6M456.22 412.4V414.6M457.65 412.4V414.6M458.92 412.4V414.6M460.05 410.9V417.4M467.49 412.4V414.6M471.85 412.4V414.6M474.94 412.4V414.6M477.33 412.4V414.6M479.29 412.4V414.6M480.95 412.4V414.6M482.38 412.4V414.6M483.64 412.4V414.6M484.77 410.9V417.4M492.22 412.4V414.6M496.57 412.4V414.6M499.66 412.4V414.6M502.06 412.4V414.6M504.01 412.4V414.6M505.67 412.4V414.6M507.1 412.4V414.6M508.37 412.4V414.6M509.5 410.9V417.4" stroke="#000" stroke-width="1.3" fill="none"/>
<path d="M412.4 379 L412.4 400" stroke="#000" stroke-width="1.6" fill="none" stroke-linejoin="round"/>
<path d="M411.5 400.6 L412.6 379.4 L413.2 392 L413.8 395.9 L415 386.5 L416.2 374.7 L417.4 362.9 L418.5 351.2 L419.7 341.8 L420.3 338.8 L421.5 344.1 L422.6 351.2 L423.8 355.9 L425 364.1 L426.2 377.1 L427.4 388.8 L428.5 397.1 L430.3 404.1 L432.6 407.6 L436.8 410 L442.6 410.6 L460 411.5 L508 412" stroke="#000" stroke-width="1.1" fill="none" stroke-linejoin="round"/>
<path d="M412.1 382.9 L413.2 377.1 L414.4 365.3 L415.6 351.2 L416.8 345.3 L417.9 344.1 L419.1 345.3 L420.3 355.9 L421.5 365.3 L422.6 374.7 L423.8 384.1 L425 393.5 L426.8 401.8 L428.5 406.5 L432.1 408.8 L437.9 410.6 L450 411.3" stroke="#2a2a2a" stroke-width="0.95" fill="none" stroke-linejoin="round" stroke-dasharray="2.2 1.3"/>
<path d="M440 411.31 L440.91 410.74 L442.43 411.21 L443.75 409.9 L444.8 411.13 L446.02 409.43 L447.31 411.08 L448.41 410.77 L449.24 411.14 L450.09 409.72 L451.35 411.47 L452.76 411.03 L454.24 411.08 L455.13 409.61 L456.49 411.44 L457.79 410.85 L459.31 411.16 L460.9 410.99 L461.88 411.19 L463.13 410.74 L464.63 411.08 L465.6 410.81 L466.9 411.3 L468.2 410.15 L469.25 411.49 L470.08 410.22 L471.43 411.29 L472.8 410.08 L474.29 411.17 L475.28 410.84 L476.04 411.48 L477.52 409.49 L478.89 411.45 L480.19 410.87 L481.69 411.17 L483.06 410.01 L484.14 411.08 L485.71 410.67 L486.8 411.13 L488.11 410.38 L489.22 411.02 L490.16 410.74 L491.48 411.36 L492.99 410.55 L494.52 411.31 L496.02 409.85 L497.38 411.39 L498.23 411.05 L499.09 411.17 L499.85 410.71 L501.06 411.42 L502.05 410.73 L503.36 411.44 L504.96 410.15 L506.3 411.22 L507.45 409.59" stroke="#111" stroke-width="0.8075" fill="none" stroke-linejoin="round"/>
<path d="M410.6 412.4V322.6H509.5V412.4" stroke="#000" stroke-width="1.35" fill="none"/>
<path d="M410 412.4H510.1" stroke="#000" stroke-width="1.6" fill="none"/>
<text transform="translate(402.3 321) rotate(-90)" text-anchor="middle" font-size="8.8">120</text>
<text transform="translate(402.3 410.7) rotate(-90)" text-anchor="middle" font-size="8.8">0</text>
<text transform="translate(392.5 367.5) rotate(-90)" text-anchor="middle" font-size="9.3">Counts</text>
<text x="404.3" y="427.9" font-size="8.6">10</text>
<text x="414.4" y="422.7" font-size="8.6">0</text>
<text x="428.43" y="427.9" font-size="8.6">10</text>
<text x="438.53" y="422.7" font-size="8.6">1</text>
<text x="452.55" y="427.9" font-size="8.6">10</text>
<text x="462.65" y="422.7" font-size="8.6">2</text>
<text x="476.67" y="427.9" font-size="8.6">10</text>
<text x="486.77" y="422.7" font-size="8.6">3</text>
<text x="500.8" y="427.9" font-size="8.6">10</text>
<text x="510.9" y="422.7" font-size="8.6">4</text>
<text x="459.75" y="437.3" text-anchor="middle" font-size="8.6">FL1-H</text>
<text transform="translate(470.04 338.58) scale(1 0.99)" font-size="10" font-weight="bold" style="stroke-width:0.4px" letter-spacing="2.9">0.3%</text>
<text transform="translate(453.2 361.98) scale(1 1.0)" font-size="9.8" style="stroke-width:0.12px" letter-spacing="0.4">Mean:2.7</text>
<path d="M106.6 549.3H111.4M109 546.44H111.4M109 543.59H111.4M109 540.73H111.4M109 537.87H111.4M106.6 535.02H111.4M109 532.16H111.4M109 529.3H111.4M109 526.45H111.4M109 523.59H111.4M106.6 520.73H111.4M109 517.88H111.4M109 515.02H111.4M109 512.16H111.4M109 509.31H111.4M106.6 506.45H111.4M109 503.59H111.4M109 500.74H111.4M109 497.88H111.4M109 495.02H111.4M106.6 492.17H111.4M109 489.31H111.4M109 486.45H111.4M109 483.6H111.4M109 480.74H111.4M106.6 477.88H111.4M109 475.03H111.4M109 472.17H111.4M109 469.31H111.4M109 466.46H111.4M106.6 463.6H111.4M111.4 549.3V554.3M119.06 549.3V551.5M123.54 549.3V551.5M126.72 549.3V551.5M129.19 549.3V551.5M131.2 549.3V551.5M132.91 549.3V551.5M134.38 549.3V551.5M135.69 549.3V551.5M136.85 547.8V554.3M144.51 549.3V551.5M148.99 549.3V551.5M152.17 549.3V551.5M154.64 549.3V551.5M156.65 549.3V551.5M158.36 549.3V551.5M159.83 549.3V551.5M161.14 549.3V551.5M162.3 547.8V554.3M169.96 549.3V551.5M174.44 549.3V551.5M177.62 549.3V551.5M180.09 549.3V551.5M182.1 549.3V551.5M183.81 549.3V551.5M185.28 549.3V551.5M186.59 549.3V551.5M187.75 547.8V554.3M195.41 549.3V551.5M199.89 549.3V551.5M203.07 549.3V551.5M205.54 549.3V551.5M207.55 549.3V551.5M209.26 549.3V551.5M210.73 549.3V551.5M212.04 549.3V551.5M213.2 547.8V554.3" stroke="#000" stroke-width="1.3" fill="none"/>
<path d="M112 538.5 L112.6 546.5 L114.3 548.3 L116.7 546.5 L119 543.1 L120.7 538.5 L121.8 533.8 L123.6 529.2 L125.3 523.5 L127 518.8 L128.8 520 L129.3 524.6 L130.5 523.5 L131.7 526.9 L132.8 531.5 L134.5 535 L136.8 535.6 L138.6 532.7 L139.7 525.8 L141.5 521.2 L142.6 516.5 L144.3 510.8 L145.5 506.7 L146.7 508.5 L147.8 509.6 L149 509 L150.1 513.1 L151.3 518.8 L153 525.8 L154.2 531.5 L155.9 537.3 L157.6 543.1 L159.3 546 L162.2 546.5 L164.5 545.2 L168 546.5 L175 547.6 L185 548.3 L212 549" stroke="#000" stroke-width="1.1" fill="none" stroke-linejoin="round"/>
<path d="M113.8 547.7 L117.2 544.2 L119.5 538.5 L121.8 528.1 L124.2 521.2 L126.2 517.7 L128.2 522.3 L129.9 526.9 L132.2 530.4 L134.5 533.8 L136.8 536.2 L139.2 538.5 L141.5 536.2 L143.2 532.7 L144.9 526.9 L146.1 517.7 L147.2 511.9 L149 509.6 L150.7 510.8 L151.8 515.4 L153.6 522.3 L155.3 531.5 L157 538.5 L158.8 544.2 L161.7 546.5 L165.7 547.1 L172 547.8 L180 548.3" stroke="#2a2a2a" stroke-width="0.95" fill="none" stroke-linejoin="round" stroke-dasharray="2.2 1.3"/>
<path d="M175 547.92 L175.83 547.95 L177.43 548.31 L178.23 546.73 L179.24 547.96 L180.15 546.16 L181.14 548.1 L182.68 546.71 L184.21 548.05 L184.95 546.38 L186.19 548.24 L187.06 546.46 L188.28 547.93 L189.68 546.3 L190.89 548.05 L192.14 547.55 L193.7 548.24 L195.1 546.39 L196.39 548.33 L197.83 546.9 L198.7 548.38 L199.88 547.95 L201.41 548.15 L202.57 547.36 L203.87 547.94 L204.85 547.43 L206.07 548.25 L207.31 547.19 L208.4 548.06 L209.57 547.87 L211.17 548.22 L212.26 547.43" stroke="#111" stroke-width="0.765" fill="none" stroke-linejoin="round"/>
<path d="M111.4 549.3V462.6H213.2V549.3" stroke="#000" stroke-width="1.35" fill="none"/>
<path d="M110.8 549.3H213.8" stroke="#000" stroke-width="1.6" fill="none"/>
<text transform="translate(103.1 461) rotate(-90)" text-anchor="middle" font-size="8.8">120</text>
<text transform="translate(103.1 547.6) rotate(-90)" text-anchor="middle" font-size="8.8">0</text>
<text transform="translate(93.7 507.8) rotate(-90)" text-anchor="middle" font-size="9.3">Counts</text>
<text x="105.1" y="564.8" font-size="8.6">10</text>
<text x="115.2" y="559.6" font-size="8.6">0</text>
<text x="129.95" y="564.8" font-size="8.6">10</text>
<text x="140.05" y="559.6" font-size="8.6">1</text>
<text x="154.8" y="564.8" font-size="8.6">10</text>
<text x="164.9" y="559.6" font-size="8.6">2</text>
<text x="179.65" y="564.8" font-size="8.6">10</text>
<text x="189.75" y="559.6" font-size="8.6">3</text>
<text x="204.5" y="564.8" font-size="8.6">10</text>
<text x="214.6" y="559.6" font-size="8.6">4</text>
<text x="162" y="574.2" text-anchor="middle" font-size="8.6">FL1-H</text>
<text transform="translate(164.76 481.68) scale(1 0.99)" font-size="10" font-weight="bold" style="stroke-width:0.4px" letter-spacing="2.9">65.2%</text>
<text transform="translate(154.64 501.52) scale(1 1.0)" font-size="9.8" style="stroke-width:0.12px" letter-spacing="0.4">Mean:30.4</text>
<path d="M258 549.7H262.8M260.4 546.8H262.8M260.4 543.91H262.8M260.4 541.01H262.8M260.4 538.11H262.8M258 535.22H262.8M260.4 532.32H262.8M260.4 529.42H262.8M260.4 526.53H262.8M260.4 523.63H262.8M258 520.73H262.8M260.4 517.84H262.8M260.4 514.94H262.8M260.4 512.04H262.8M260.4 509.15H262.8M258 506.25H262.8M260.4 503.35H262.8M260.4 500.46H262.8M260.4 497.56H262.8M260.4 494.66H262.8M258 491.77H262.8M260.4 488.87H262.8M260.4 485.97H262.8M260.4 483.08H262.8M260.4 480.18H262.8M258 477.28H262.8M260.4 474.39H262.8M260.4 471.49H262.8M260.4 468.59H262.8M260.4 465.7H262.8M258 462.8H262.8M262.8 549.7V554.7M270.32 549.7V551.9M274.72 549.7V551.9M277.84 549.7V551.9M280.26 549.7V551.9M282.23 549.7V551.9M283.91 549.7V551.9M285.35 549.7V551.9M286.63 549.7V551.9M287.77 548.2V554.7M295.29 549.7V551.9M299.69 549.7V551.9M302.81 549.7V551.9M305.23 549.7V551.9M307.21 549.7V551.9M308.88 549.7V551.9M310.33 549.7V551.9M311.61 549.7V551.9M312.75 548.2V554.7M320.27 549.7V551.9M324.67 549.7V551.9M327.79 549.7V551.9M330.21 549.7V551.9M332.18 549.7V551.9M333.86 549.7V551.9M335.3 549.7V551.9M336.58 549.7V551.9M337.73 548.2V554.7M345.24 549.7V551.9M349.64 549.7V551.9M352.76 549.7V551.9M355.18 549.7V551.9M357.16 549.7V551.9M358.83 549.7V551.9M360.28 549.7V551.9M361.56 549.7V551.9M362.7 548.2V554.7" stroke="#000" stroke-width="1.3" fill="none"/>
<path d="M263.9 536.1 L265.2 516.6 L266.5 497.1 L267.8 477.5 L269.1 463.9 L269.8 462.8 L273 462.8 L273.7 471 L274.3 490.6 L275 510.1 L276.3 525.7 L278.2 536.1 L280.8 541.3 L284.7 543.9 L287.3 542.6 L290 544.6 L295.2 546.5 L303 547.8 L315 548.3" stroke="#2a2a2a" stroke-width="0.95" fill="none" stroke-linejoin="round" stroke-dasharray="2.2 1.3"/>
<path d="M263.9 543.9 L266.5 547.2 L270.4 546.5 L273 541.3 L274.3 530.9 L275.6 512.7 L276.9 497.1 L278.2 481.4 L279.3 474.9 L280.8 476.2 L282.1 472.3 L283.4 476.2 L284.7 488 L286 501 L287.3 516.6 L288.6 528.3 L290.6 536.1 L292.6 540 L295.2 542.6 L299.1 541.3 L301.7 543.3 L305.6 544.6 L309.5 546.5 L314.7 547.8 L330 548.3 L362 548.5" stroke="#000" stroke-width="1.1" fill="none" stroke-linejoin="round"/>
<path d="M315 548.53 L316.38 547.07 L317.85 548.66 L319.42 547.41 L320.8 548.42 L322.33 547.93 L323.36 548.44 L324.59 547.13 L325.62 548.32 L326.33 547.19 L327.36 548.79 L328.67 548.32 L329.58 548.64 L330.42 548.13 L331.19 548.38 L331.96 548.14 L332.73 548.35 L333.93 547.1 L335.5 548.55 L336.56 547.79 L337.49 548.5 L339.06 547.63 L340.44 548.36 L341.89 547.4 L343.09 548.75 L344.13 547.15 L345.22 548.46 L346.16 547.56 L347.05 548.41 L348.49 548.37 L349.79 548.75 L351.34 548.16 L352.16 548.35 L353.41 548.39 L354.53 548.39 L355.38 547.39 L356.34 548.58 L357.4 548.33 L358.45 548.54 L359.7 547.7 L360.56 548.5 L361.52 547.25" stroke="#111" stroke-width="0.765" fill="none" stroke-linejoin="round"/>
<path d="M262.8 549.7V461.8H362.7V549.7" stroke="#000" stroke-width="1.35" fill="none"/>
<path d="M262.2 549.7H363.3" stroke="#000" stroke-width="1.6" fill="none"/>
<text transform="translate(254.5 460.2) rotate(-90)" text-anchor="middle" font-size="8.8">120</text>
<text transform="translate(254.5 548) rotate(-90)" text-anchor="middle" font-size="8.8">0</text>
<text transform="translate(244.7 506.85) rotate(-90)" text-anchor="middle" font-size="9.3">Counts</text>
<text x="256.5" y="565.2" font-size="8.6">10</text>
<text x="266.6" y="560" font-size="8.6">0</text>
<text x="280.88" y="565.2" font-size="8.6">10</text>
<text x="290.98" y="560" font-size="8.6">1</text>
<text x="305.25" y="565.2" font-size="8.6">10</text>
<text x="315.35" y="560" font-size="8.6">2</text>
<text x="329.62" y="565.2" font-size="8.6">10</text>
<text x="339.73" y="560" font-size="8.6">3</text>
<text x="354" y="565.2" font-size="8.6">10</text>
<text x="364.1" y="560" font-size="8.6">4</text>
<text x="312.45" y="574.6" text-anchor="middle" font-size="8.6">FL1-H</text>
<text transform="translate(314.2 479.1) scale(1 0.99)" font-size="10" font-weight="bold" style="stroke-width:0.4px" letter-spacing="2.9">73.3%</text>
<text transform="translate(311.58 498.54) scale(1 1.0)" font-size="9.8" style="stroke-width:0.12px" letter-spacing="0.4">Mean:9.6</text>
<path d="M407.6 549.9H412.4M410 547.06H412.4M410 544.23H412.4M410 541.39H412.4M410 538.55H412.4M407.6 535.72H412.4M410 532.88H412.4M410 530.04H412.4M410 527.21H412.4M410 524.37H412.4M407.6 521.53H412.4M410 518.7H412.4M410 515.86H412.4M410 513.02H412.4M410 510.19H412.4M407.6 507.35H412.4M410 504.51H412.4M410 501.68H412.4M410 498.84H412.4M410 496H412.4M407.6 493.17H412.4M410 490.33H412.4M410 487.49H412.4M410 484.66H412.4M410 481.82H412.4M407.6 478.98H412.4M410 476.15H412.4M410 473.31H412.4M410 470.47H412.4M410 467.64H412.4M407.6 464.8H412.4M412.4 549.9V554.9M419.85 549.9V552.1M424.21 549.9V552.1M427.3 549.9V552.1M429.7 549.9V552.1M431.66 549.9V552.1M433.32 549.9V552.1M434.75 549.9V552.1M436.02 549.9V552.1M437.15 548.4V554.9M444.6 549.9V552.1M448.96 549.9V552.1M452.05 549.9V552.1M454.45 549.9V552.1M456.41 549.9V552.1M458.07 549.9V552.1M459.5 549.9V552.1M460.77 549.9V552.1M461.9 548.4V554.9M469.35 549.9V552.1M473.71 549.9V552.1M476.8 549.9V552.1M479.2 549.9V552.1M481.16 549.9V552.1M482.82 549.9V552.1M484.25 549.9V552.1M485.52 549.9V552.1M486.65 548.4V554.9M494.1 549.9V552.1M498.46 549.9V552.1M501.55 549.9V552.1M503.95 549.9V552.1M505.91 549.9V552.1M507.57 549.9V552.1M509 549.9V552.1M510.27 549.9V552.1M511.4 548.4V554.9" stroke="#000" stroke-width="1.3" fill="none"/>
<path d="M413.6 511.5 L413.6 539" stroke="#000" stroke-width="1.8" fill="none" stroke-linejoin="round"/>
<path d="M413.3 548 L413.8 539.2 L414.9 525.4 L416.7 516.2 L418.4 504.6 L419.5 493.1 L420.7 485 L421.6 480.4 L422.4 485 L423.3 482.7 L424.2 487.3 L425.3 495.4 L426.5 506.9 L427.6 518.5 L428.8 528.8 L429.9 536.9 L431.7 542.7 L434.5 545.6 L439.2 546.7 L446.1 547.9 L454.2 548.7 L470 549.2 L511 549.6" stroke="#000" stroke-width="1.1" fill="none" stroke-linejoin="round"/>
<path d="M414.3 516.2 L415.5 504.6 L416.7 493.1 L417.8 487.3 L419 485 L420.1 486.2 L421.3 493.1 L422.4 502.3 L423.6 511.5 L424.7 521.9 L425.9 531.2 L427.6 540.4 L429.9 545 L434.5 546.7 L440.3 547.9 L455 548.8" stroke="#2a2a2a" stroke-width="0.95" fill="none" stroke-linejoin="round" stroke-dasharray="2.2 1.3"/>
<path d="M445 548.73 L445.82 547.18 L446.79 548.53 L447.66 547.09 L448.51 548.52 L450 548.39 L451.28 548.89 L452.44 546.96 L453.28 548.89 L454.05 548.48 L455.2 548.92 L456.01 547.27 L456.98 548.83 L457.98 547.02 L458.93 548.68 L460.47 547.54 L461.42 548.93 L462.71 548.28 L463.77 548.59 L465.18 548.1 L466.21 548.86 L467.17 547.71 L467.97 548.94 L468.81 548.01 L469.99 548.84 L471.07 547.23 L472.48 548.79 L473.98 548.6 L475.2 548.66 L476.26 547.87 L477.2 548.62 L478.07 547.64 L479.41 548.59 L480.95 548.32 L481.79 548.86 L483.23 547.64 L484.59 548.78 L485.77 547 L486.82 548.79 L488.11 547.21 L489.62 548.74 L490.36 548.45 L491.09 549 L492.36 548.02 L493.15 548.6 L494.39 547.81 L495.84 548.95 L496.95 547.71 L498.08 548.89 L499.48 547.31 L501.08 548.7 L501.96 548.24 L502.69 548.51 L503.77 548.2 L504.49 548.84 L506.06 547.64 L506.84 548.88 L508.39 548.15 L509.78 548.67 L510.54 547.37" stroke="#111" stroke-width="0.8075" fill="none" stroke-linejoin="round"/>
<path d="M412.4 549.9V463.8H511.4V549.9" stroke="#000" stroke-width="1.35" fill="none"/>
<path d="M411.8 549.9H512" stroke="#000" stroke-width="1.6" fill="none"/>
<text transform="translate(404.1 462.2) rotate(-90)" text-anchor="middle" font-size="8.8">120</text>
<text transform="translate(404.1 548.2) rotate(-90)" text-anchor="middle" font-size="8.8">0</text>
<text transform="translate(394.3 507.95) rotate(-90)" text-anchor="middle" font-size="9.3">Counts</text>
<text x="406.1" y="565.4" font-size="8.6">10</text>
<text x="416.2" y="560.2" font-size="8.6">0</text>
<text x="430.25" y="565.4" font-size="8.6">10</text>
<text x="440.35" y="560.2" font-size="8.6">1</text>
<text x="454.4" y="565.4" font-size="8.6">10</text>
<text x="464.5" y="560.2" font-size="8.6">2</text>
<text x="478.55" y="565.4" font-size="8.6">10</text>
<text x="488.65" y="560.2" font-size="8.6">3</text>
<text x="502.7" y="565.4" font-size="8.6">10</text>
<text x="512.8" y="560.2" font-size="8.6">4</text>
<text x="461.6" y="574.8" text-anchor="middle" font-size="8.6">FL1-H</text>
<text transform="translate(468.84 480.84) scale(1 0.99)" font-size="10" font-weight="bold" style="stroke-width:0.4px" letter-spacing="2.9">0.7%</text>
<text transform="translate(452.42 501.12) scale(1 1.0)" font-size="9.8" style="stroke-width:0.12px" letter-spacing="0.4">Mean:2.7</text>
<path d="M104.9 694.9H109.7M107.3 691.86H109.7M107.3 688.83H109.7M107.3 685.79H109.7M107.3 682.75H109.7M104.9 679.72H109.7M107.3 676.68H109.7M107.3 673.64H109.7M107.3 670.61H109.7M107.3 667.57H109.7M104.9 664.53H109.7M107.3 661.5H109.7M107.3 658.46H109.7M107.3 655.42H109.7M107.3 652.39H109.7M104.9 649.35H109.7M107.3 646.31H109.7M107.3 643.28H109.7M107.3 640.24H109.7M107.3 637.2H109.7M104.9 634.17H109.7M107.3 631.13H109.7M107.3 628.09H109.7M107.3 625.06H109.7M107.3 622.02H109.7M104.9 618.98H109.7M107.3 615.95H109.7M107.3 612.91H109.7M107.3 609.87H109.7M107.3 606.84H109.7M104.9 603.8H109.7M109.7 694.9V699.9M117.63 694.9V697.1M122.27 694.9V697.1M125.56 694.9V697.1M128.12 694.9V697.1M130.2 694.9V697.1M131.97 694.9V697.1M133.5 694.9V697.1M134.84 694.9V697.1M136.05 693.4V699.9M143.98 694.9V697.1M148.62 694.9V697.1M151.91 694.9V697.1M154.47 694.9V697.1M156.55 694.9V697.1M158.32 694.9V697.1M159.85 694.9V697.1M161.19 694.9V697.1M162.4 693.4V699.9M170.33 694.9V697.1M174.97 694.9V697.1M178.26 694.9V697.1M180.82 694.9V697.1M182.9 694.9V697.1M184.67 694.9V697.1M186.2 694.9V697.1M187.54 694.9V697.1M188.75 693.4V699.9M196.68 694.9V697.1M201.32 694.9V697.1M204.61 694.9V697.1M207.17 694.9V697.1M209.25 694.9V697.1M211.02 694.9V697.1M212.55 694.9V697.1M213.89 694.9V697.1M215.1 693.4V699.9" stroke="#000" stroke-width="1.3" fill="none"/>
<path d="M111.1 691.9 L113.1 693.3 L115.8 691.9 L118.5 685.2 L121.2 677.1 L123.8 669 L126.5 665.7 L128.6 669 L130.6 673.1 L132.6 679.8 L134.6 683.2 L136.6 681.8 L138.6 681.1 L140.7 674.4 L142.7 663.6 L144 654.2 L145.4 646.8 L147.4 648.8 L149.4 651.5 L151.4 658.3 L153.5 667.7 L155.5 678.5 L157.5 686.5 L160.2 691.9 L164.2 693.3 L168.3 693.9 L180 694.5 L214 695" stroke="#000" stroke-width="1.1" fill="none" stroke-linejoin="round"/>
<path d="M113.1 691.9 L115.8 687.9 L117.8 681.1 L120.5 670.4 L123.2 663.6 L125.2 661 L127.2 663 L129.2 666.3 L131.9 673.1 L135.3 679.8 L138.6 682.5 L140.7 681.8 L142.7 677.1 L144.7 667.7 L146.7 656.9 L148.7 652.9 L150.8 651.5 L152.8 656.9 L154.8 667.7 L156.8 678.5 L158.8 686.5 L161.5 689.9 L165.6 691.2 L169.6 691.9 L178 693" stroke="#2a2a2a" stroke-width="0.95" fill="none" stroke-linejoin="round" stroke-dasharray="1 1.6"/>
<path d="M128 694.5 L140 693.6 L150 692.8 L158 692.4 L166 692.9 L175 693.6 L185 694.4" stroke="#2a2a2a" stroke-width="0.8" fill="none" stroke-linejoin="round" stroke-dasharray="2.2 1.3"/>
<path d="M165 693.73 L166.01 691.92 L166.97 693.74 L167.98 692.78 L169.56 693.95 L170.66 693.17 L171.67 693.5 L172.67 692.44 L173.75 693.63 L174.85 693.28 L175.94 693.8 L177.35 692.56 L178.23 693.66 L179.2 692.66 L180.1 693.79 L181.5 692.67 L182.88 693.62 L184.11 692.46 L185.17 693.69 L186.57 693.43 L188.11 693.82 L188.93 693.34 L189.94 693.97 L191 692.9 L192.29 693.77 L193.83 692.51 L194.82 693.56 L196.15 692.03 L197.51 693.52 L198.39 693.15 L199.97 693.99 L201.5 692.18 L202.32 693.92 L203.85 692.13 L205.33 693.64 L206.71 693.14 L207.42 693.69 L208.91 692.2 L210.08 694 L210.93 692.95 L211.84 693.99 L212.72 692.89 L213.53 693.94" stroke="#111" stroke-width="0.765" fill="none" stroke-linejoin="round"/>
<path d="M109.7 694.9V602.8H215.1V694.9" stroke="#000" stroke-width="1.35" fill="none"/>
<path d="M109.1 694.9H215.7" stroke="#000" stroke-width="1.6" fill="none"/>
<text transform="translate(101.4 601.2) rotate(-90)" text-anchor="middle" font-size="8.8">120</text>
<text transform="translate(101.4 693.2) rotate(-90)" text-anchor="middle" font-size="8.8">0</text>
<text transform="translate(91.6 650.2) rotate(-90)" text-anchor="middle" font-size="9.3">Counts</text>
<text x="103.4" y="710.4" font-size="8.6">10</text>
<text x="113.5" y="705.2" font-size="8.6">0</text>
<text x="129.15" y="710.4" font-size="8.6">10</text>
<text x="139.25" y="705.2" font-size="8.6">1</text>
<text x="154.9" y="710.4" font-size="8.6">10</text>
<text x="165" y="705.2" font-size="8.6">2</text>
<text x="180.65" y="710.4" font-size="8.6">10</text>
<text x="190.75" y="705.2" font-size="8.6">3</text>
<text x="206.4" y="710.4" font-size="8.6">10</text>
<text x="216.5" y="705.2" font-size="8.6">4</text>
<text x="162.1" y="719.8" text-anchor="middle" font-size="8.6">FL1-H</text>
<text transform="translate(164.36 619.8) scale(1 0.99)" font-size="10" font-weight="bold" style="stroke-width:0.4px" letter-spacing="2.9">64.8%</text>
<text transform="translate(156.64 640.16) scale(1 1.0)" font-size="9.8" style="stroke-width:0.12px" letter-spacing="0.4">Mean:19.8</text>
<path d="M260.9 693.6H265.7M263.3 690.62H265.7M263.3 687.65H265.7M263.3 684.67H265.7M263.3 681.69H265.7M260.9 678.72H265.7M263.3 675.74H265.7M263.3 672.76H265.7M263.3 669.79H265.7M263.3 666.81H265.7M260.9 663.83H265.7M263.3 660.86H265.7M263.3 657.88H265.7M263.3 654.9H265.7M263.3 651.93H265.7M260.9 648.95H265.7M263.3 645.97H265.7M263.3 643H265.7M263.3 640.02H265.7M263.3 637.04H265.7M260.9 634.07H265.7M263.3 631.09H265.7M263.3 628.11H265.7M263.3 625.14H265.7M263.3 622.16H265.7M260.9 619.18H265.7M263.3 616.21H265.7M263.3 613.23H265.7M263.3 610.25H265.7M263.3 607.28H265.7M260.9 604.3H265.7M265.7 693.6V698.6M273.16 693.6V695.8M277.52 693.6V695.8M280.62 693.6V695.8M283.02 693.6V695.8M284.98 693.6V695.8M286.64 693.6V695.8M288.07 693.6V695.8M289.34 693.6V695.8M290.48 692.1V698.6M297.93 693.6V695.8M302.3 693.6V695.8M305.39 693.6V695.8M307.79 693.6V695.8M309.75 693.6V695.8M311.41 693.6V695.8M312.85 693.6V695.8M314.12 693.6V695.8M315.25 692.1V698.6M322.71 693.6V695.8M327.07 693.6V695.8M330.17 693.6V695.8M332.57 693.6V695.8M334.53 693.6V695.8M336.19 693.6V695.8M337.62 693.6V695.8M338.89 693.6V695.8M340.02 692.1V698.6M347.48 693.6V695.8M351.85 693.6V695.8M354.94 693.6V695.8M357.34 693.6V695.8M359.3 693.6V695.8M360.96 693.6V695.8M362.4 693.6V695.8M363.67 693.6V695.8M364.8 692.1V698.6" stroke="#000" stroke-width="1.3" fill="none"/>
<path d="M267 640 L267 690" stroke="#000" stroke-width="1.6" fill="none" stroke-linejoin="round"/>
<path d="M267.4 678 L268.7 660.5 L270.1 640.3 L271.4 620.2 L272.5 606 L272.8 604.7 L276.1 604.7 L276.5 613.4 L277.1 633.6 L277.9 647 L278.8 660.5 L280.1 675.3 L282.2 682 L285.5 686 L289.6 688.7 L290.2 686.7 L294.3 689.4 L299.6 690.7 L305 692.1 L315 692.4" stroke="#2a2a2a" stroke-width="0.95" fill="none" stroke-linejoin="round" stroke-dasharray="2.2 1.3"/>
<path d="M267.4 686 L270.1 690.1 L273.4 688.7 L275.4 680.6 L276.8 667.2 L278.1 651.1 L279.5 635 L280.8 621.5 L282.2 614.8 L282.8 613.4 L284.2 617.5 L285.5 622.8 L286.9 633.6 L288.2 647 L289.6 660.5 L290.9 672.6 L292.2 678 L294.9 682 L298.3 684 L302.3 685.3 L306.4 687.4 L310.4 688.7 L315.8 690.7 L322.1 692.1 L335 692.4 L362 692.6" stroke="#000" stroke-width="1.1" fill="none" stroke-linejoin="round"/>
<path d="M318 692.38 L318.72 691.81 L319.62 692.33 L320.93 690.72 L321.71 692.49 L322.44 691.92 L323.59 692.69 L324.47 691.18 L325.66 692.59 L326.89 690.93 L327.6 692.3 L328.93 691.73 L329.77 692.22 L330.77 692.15 L331.56 692.28 L332.8 690.98 L334.16 692.43 L335.73 691.7 L336.93 692.29 L338.19 690.95 L339.41 692.35 L340.15 691.95 L341.11 692.66 L342.02 692.15 L342.97 692.38 L343.99 691.74 L344.88 692.57 L346.43 691.35 L347.67 692.61 L349.03 692.06 L350.07 692.21 L351.35 691.51 L352.66 692.28 L354.06 691.98 L354.79 692.54 L355.73 692.01 L357.28 692.26 L358.26 691.42 L359.32 692.24 L360.43 691.95 L361.36 692.42 L362.29 691.55 L363.8 692.5" stroke="#111" stroke-width="0.765" fill="none" stroke-linejoin="round"/>
<path d="M265.7 693.6V603.3H364.8V693.6" stroke="#000" stroke-width="1.35" fill="none"/>
<path d="M265.1 693.6H365.4" stroke="#000" stroke-width="1.6" fill="none"/>
<text transform="translate(257.4 601.7) rotate(-90)" text-anchor="middle" font-size="8.8">120</text>
<text transform="translate(257.4 691.9) rotate(-90)" text-anchor="middle" font-size="8.8">0</text>
<text transform="translate(247.6 649.55) rotate(-90)" text-anchor="middle" font-size="9.3">Counts</text>
<text x="259.4" y="709.1" font-size="8.6">10</text>
<text x="269.5" y="703.9" font-size="8.6">0</text>
<text x="283.57" y="709.1" font-size="8.6">10</text>
<text x="293.68" y="703.9" font-size="8.6">1</text>
<text x="307.75" y="709.1" font-size="8.6">10</text>
<text x="317.85" y="703.9" font-size="8.6">2</text>
<text x="331.92" y="709.1" font-size="8.6">10</text>
<text x="342.02" y="703.9" font-size="8.6">3</text>
<text x="356.1" y="709.1" font-size="8.6">10</text>
<text x="366.2" y="703.9" font-size="8.6">4</text>
<text x="314.95" y="718.5" text-anchor="middle" font-size="8.6">FL1-H</text>
<text transform="translate(313.82 620.78) scale(1 0.99)" font-size="10" font-weight="bold" style="stroke-width:0.4px" letter-spacing="2.9">66.2%</text>
<text transform="translate(311.58 643.34) scale(1 1.0)" font-size="9.8" style="stroke-width:0.12px" letter-spacing="0.4">Mean:9.6</text>
<path d="M409.3 691.6H414.1M411.7 688.64H414.1M411.7 685.68H414.1M411.7 682.72H414.1M411.7 679.76H414.1M409.3 676.8H414.1M411.7 673.84H414.1M411.7 670.88H414.1M411.7 667.92H414.1M411.7 664.96H414.1M409.3 662H414.1M411.7 659.04H414.1M411.7 656.08H414.1M411.7 653.12H414.1M411.7 650.16H414.1M409.3 647.2H414.1M411.7 644.24H414.1M411.7 641.28H414.1M411.7 638.32H414.1M411.7 635.36H414.1M409.3 632.4H414.1M411.7 629.44H414.1M411.7 626.48H414.1M411.7 623.52H414.1M411.7 620.56H414.1M409.3 617.6H414.1M411.7 614.64H414.1M411.7 611.68H414.1M411.7 608.72H414.1M411.7 605.76H414.1M409.3 602.8H414.1M414.1 691.6V696.6M421.48 691.6V693.8M425.8 691.6V693.8M428.87 691.6V693.8M431.24 691.6V693.8M433.18 691.6V693.8M434.83 691.6V693.8M436.25 691.6V693.8M437.5 691.6V693.8M438.62 690.1V696.6M446.01 691.6V693.8M450.33 691.6V693.8M453.39 691.6V693.8M455.77 691.6V693.8M457.71 691.6V693.8M459.35 691.6V693.8M460.77 691.6V693.8M462.03 691.6V693.8M463.15 690.1V696.6M470.53 691.6V693.8M474.85 691.6V693.8M477.92 691.6V693.8M480.29 691.6V693.8M482.23 691.6V693.8M483.88 691.6V693.8M485.3 691.6V693.8M486.55 691.6V693.8M487.68 690.1V696.6M495.06 691.6V693.8M499.38 691.6V693.8M502.44 691.6V693.8M504.82 691.6V693.8M506.76 691.6V693.8M508.4 691.6V693.8M509.82 691.6V693.8M511.08 691.6V693.8M512.2 690.1V696.6" stroke="#000" stroke-width="1.3" fill="none"/>
<path d="M415.4 638 L415.4 675" stroke="#000" stroke-width="1.8" fill="none" stroke-linejoin="round"/>
<path d="M415.2 690 L415.5 675 L416.3 661.2 L417.5 649.6 L418.7 638.1 L419.8 628.8 L421 624.2 L422.1 622.5 L423.6 624.2 L424.8 627.7 L425.9 633.5 L426.7 641.5 L427.5 651.9 L428.5 663.5 L429.6 675 L430.8 681.9 L432.5 684.8 L435.4 687.1 L438.8 688.3 L443.5 689.4 L449.2 690 L456.2 690.6 L470 691 L511 691.3" stroke="#000" stroke-width="1.1" fill="none" stroke-linejoin="round"/>
<path d="M416.3 666.9 L417.5 655.4 L418.7 640.4 L419.8 631.2 L421 627.7 L422.1 628.3 L423.3 632.3 L424.4 639.2 L425.6 648.5 L426.7 657.7 L427.9 668.1 L429 677.3 L430.8 684.2 L433.1 687.1 L437.7 688.8 L444.6 690 L455 690.6" stroke="#2a2a2a" stroke-width="0.95" fill="none" stroke-linejoin="round" stroke-dasharray="2.2 1.3"/>
<path d="M445 690.65 L446.56 690 L447.92 690.28 L449.29 689.71 L450.31 690.34 L451.88 689.02 L453.07 690.51 L454.13 688.92 L455.22 690.43 L456.48 689.1 L457.22 690.58 L458.56 689.23 L460.01 690.67 L460.92 689.37 L462.29 690.6 L463.68 689.55 L464.65 690.29 L465.45 688.6 L466.43 690.52 L467.31 689.46 L468.77 690.59 L469.97 689.52 L470.94 690.63 L472.27 689.57 L473.39 690.4 L474.19 688.88 L475.69 690.57 L477.12 689.1 L478.09 690.57 L478.87 689.6 L479.98 690.46 L481.11 689.38 L481.92 690.59 L483.12 689.52 L483.98 690.56 L485.56 688.99 L486.92 690.52 L487.99 689.16 L489.2 690.38 L489.93 689.16 L490.81 690.54 L491.99 688.8 L493.05 690.38 L493.94 688.83 L494.86 690.43 L496.18 689.22 L497.28 690.38 L497.99 688.8 L499.19 690.4 L500.12 689.58 L501.4 690.49 L502.21 690.01 L503.69 690.6 L504.86 689.26 L505.75 690.3 L506.88 688.93 L507.77 690.49 L508.79 689.91 L509.88 690.49 L510.93 689.07" stroke="#111" stroke-width="0.8075" fill="none" stroke-linejoin="round"/>
<path d="M414.1 691.6V601.8H512.2V691.6" stroke="#000" stroke-width="1.35" fill="none"/>
<path d="M413.5 691.6H512.8" stroke="#000" stroke-width="1.6" fill="none"/>
<text transform="translate(405.8 600.2) rotate(-90)" text-anchor="middle" font-size="8.8">120</text>
<text transform="translate(405.8 689.9) rotate(-90)" text-anchor="middle" font-size="8.8">0</text>
<text transform="translate(396 647.8) rotate(-90)" text-anchor="middle" font-size="9.3">Counts</text>
<text x="407.8" y="707.1" font-size="8.6">10</text>
<text x="417.9" y="701.9" font-size="8.6">0</text>
<text x="431.73" y="707.1" font-size="8.6">10</text>
<text x="441.83" y="701.9" font-size="8.6">1</text>
<text x="455.65" y="707.1" font-size="8.6">10</text>
<text x="465.75" y="701.9" font-size="8.6">2</text>
<text x="479.58" y="707.1" font-size="8.6">10</text>
<text x="489.68" y="701.9" font-size="8.6">3</text>
<text x="503.5" y="707.1" font-size="8.6">10</text>
<text x="513.6" y="701.9" font-size="8.6">4</text>
<text x="462.85" y="716.5" text-anchor="middle" font-size="8.6">FL1-H</text>
<text transform="translate(471.1 619.1) scale(1 0.99)" font-size="10" font-weight="bold" style="stroke-width:0.4px" letter-spacing="2.9">0.7%</text>
<text transform="translate(454.52 640.38) scale(1 1.0)" font-size="9.8" style="stroke-width:0.12px" letter-spacing="0.4">Mean:2.6</text>
</svg></body></html>
